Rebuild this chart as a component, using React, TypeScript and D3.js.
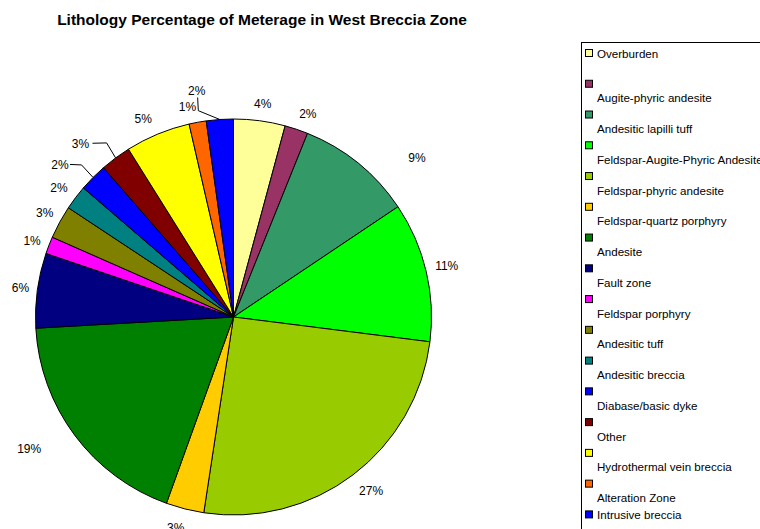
import React from 'react';
import * as d3 from 'd3';

// --- Data ---
const categories = [
  'Overburden',
  'Augite-phyric andesite',
  'Andesitic lapilli tuff',
  'Feldspar-Augite-Phyric Andesite',
  'Feldspar-phyric andesite',
  'Feldspar-quartz porphyry',
  'Andesite',
  'Fault zone',
  'Feldspar porphyry',
  'Andesitic tuff',
  'Andesitic breccia',
  'Diabase/basic dyke',
  'Other',
  'Hydrothermal vein breccia',
  'Alteration Zone',
  'Intrusive breccia',
];
const percentages = [4.2, 1.9, 9.5, 11.4, 25.4, 3.1, 18.6, 6.1, 1.4, 2.7, 2.0, 2.3, 2.5, 5.3, 1.4, 2.2];
const pctLabels = ['4%', '2%', '9%', '11%', '27%', '3%', '19%', '6%', '1%', '3%', '2%', '2%', '3%', '5%', '1%', '2%'];
const colors = [
  '#FFFF99', '#993366', '#339966', '#00FF00', '#99CC00', '#FFCC00', '#008000', '#000080',
  '#FF00FF', '#808000', '#008080', '#0000FF', '#800000', '#FFFF00', '#FF6600', '#0000FF',
];

// --- Layout ---
const W = 760;
const H = 529;
const cx = 233.5;
const cy = 317;
const R = 198;
const labelR = 215;
// nudges applied to label positions (Excel moved some labels by hand)
const labelNudge: [number, number][] = [
  [1, 0], [6, 1], [48, 8], [4, -1], [8, 2], [-5, 3], [-32, 3], [0, 0],
  [-1, 2], [0, -1], [-3, 1], [-21, 0], [-25, 0], [-8, 1], [-7, 1], [-22, -12],
];
// leader lines: index -> [start offset from label, elbow offset from slice edge]
const leaders: Record<number, [[number, number], [number, number]]> = {
  11: [[10, -1], [-11.5, -12.5]],
  12: [[12, -1], [-9, -15]],
  15: [[1, 7], [-21.5, -8.8]],
};

const font = 'Arial, "Liberation Sans", Helvetica, sans-serif';

export default function App() {
  const pie = d3.pie<number>().sort(null).value(d => d);
  const arcs = pie(percentages);
  const arc = d3.arc<d3.PieArcDatum<number>>().innerRadius(0).outerRadius(R);

  const polar = (a: number, r: number): [number, number] => [cx + r * Math.sin(a), cy - r * Math.cos(a)];

  const legendX = 581.5;
  const legendY = 42.5;
  const rowStep = 30.76;
  const firstRow = 53;

  return (
    <svg width={W} height={H} style={{ position: 'absolute', left: 0, top: 0, background: '#fff' }}
      fontFamily={font}>
      <text x={262} y={19} textAnchor="middle" dominantBaseline="central" fontSize={15.5} fontWeight="bold">
        Lithology Percentage of Meterage in West Breccia Zone
      </text>

      {/* pie */}
      <g transform={`translate(${cx},${cy})`}>
        {arcs.map((d, i) => (
          <path key={i} d={arc(d) || ''} fill={colors[i]} stroke="#000" strokeWidth={1} />
        ))}
      </g>

      {/* labels */}
      {arcs.map((d, i) => {
        const mid = (d.startAngle + d.endAngle) / 2;
        const [bx, by] = polar(mid, labelR);
        const lx = bx + labelNudge[i][0];
        const ly = by + labelNudge[i][1];
        const leader = leaders[i];
        let line = null;
        if (leader) {
          const [ex, ey] = polar(mid, R);
          const pts: [number, number][] = [
            [lx + leader[0][0], ly + leader[0][1]],
            [ex + leader[1][0], ey + leader[1][1]],
            [ex, ey],
          ];
          line = <path d={d3.line()(pts) || ''} fill="none" stroke="#000" strokeWidth={1} />;
        }
        return (
          <g key={i}>
            {line}
            <text x={lx} y={ly} textAnchor="middle" dominantBaseline="central" fontSize={12} fill="#000">
              {pctLabels[i]}
            </text>
          </g>
        );
      })}

      {/* legend */}
      <rect x={legendX} y={legendY} width={W} height={H} fill="#fff" stroke="#000" strokeWidth={1} />
      {categories.map((name, i) => {
        const my = firstRow + i * rowStep;
        const sameLine = i === 0 || i === categories.length - 1;
        const ty = sameLine ? my : my + 14;
        return (
          <g key={name}>
            <rect x={585.5} y={my - 3.5} width={7} height={7} fill={colors[i]} stroke="#000" strokeWidth={1} />
            <text x={597} y={ty} dominantBaseline="central" fontSize={11.6} fill="#000">
              {name}
            </text>
          </g>
        );
      })}
    </svg>
  );
}
